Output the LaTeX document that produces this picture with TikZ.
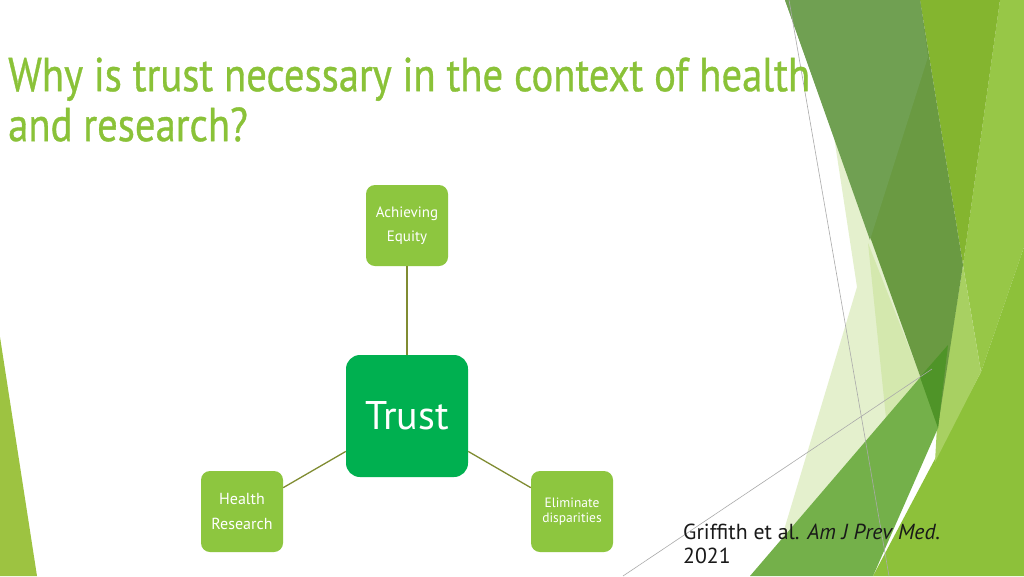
\documentclass[tikz,border=0pt]{standalone}
\usepackage{fontspec}
\setmainfont{PT Sans}
\newfontfamily\titlefont{PT Sans}[FakeBold=0.8]
\usepackage{graphicx}
\definecolor{cTitle}{RGB}{138,194,56}
\definecolor{cLeaf}{RGB}{141,198,63}
\definecolor{cTrust}{RGB}{0,176,80}
\definecolor{cLink}{RGB}{128,140,50}
\definecolor{cE}{RGB}{151,199,71}
\definecolor{cG}{RGB}{141,193,58}
\definecolor{cL}{RGB}{168,208,98}
\definecolor{cD}{RGB}{132,181,47}
\definecolor{cP}{RGB}{228,240,205}
\definecolor{cPtwo}{RGB}{212,232,174}
\definecolor{cF}{RGB}{116,176,74}
\definecolor{cC}{RGB}{106,154,66}
\definecolor{cB}{RGB}{112,160,82}
\definecolor{cDk}{RGB}{79,148,40}
\definecolor{cW}{RGB}{157,195,65}
\definecolor{cGrey}{RGB}{170,170,170}
\begin{document}
\begin{tikzpicture}[x=1pt,y=-1pt,
  leaf/.style={fill=cLeaf, rounded corners=9pt, minimum width=82pt, minimum height=81pt, text=white, align=center, inner sep=0pt},
  hub/.style={fill=cTrust, rounded corners=14pt, minimum width=122pt, minimum height=122pt, text=white, inner sep=0pt},
  link/.style={draw=cLink, line width=1.3pt},
  thin grey/.style={draw=cGrey, line width=0.6pt}]
\useasboundingbox (0,0) rectangle (1024,576);
\fill[white] (0,0) rectangle (1024,576);
% decoration, right side
\fill[cE] (1000,0) -- (1024,0) -- (1024,247) -- (981,372) -- (963,265) -- cycle;
\fill[cG] (1024,247) -- (1024,576) -- (873,576) -- (981,372) -- cycle;
\fill[cL] (963,265) -- (981,372) -- (935,462) -- (937,426) -- cycle;
\fill[cD] (920,0) -- (1000,0) -- (963,265) -- cycle;
\fill[cP] (833,130) -- (921,378) -- (781,540) -- (857,287) -- cycle;
\fill[cPtwo] (868,243) -- (921,378) -- (886,418) -- cycle;
\fill[cF] (750,576) -- (948,345) -- (938,428) -- (873,576) -- cycle;
\fill[cC] (785,0) -- (920,0) -- (963,265) -- (938,426) -- cycle;
\fill[cB] (785,0) -- (920,0) -- (928,57) -- (870,240) -- cycle;
\fill[cDk] (920,377) -- (948,345) -- (938,428) -- cycle;
% decoration, left side
\fill[cW] (0,337) -- (37,576) -- (0,576) -- cycle;
% thin lines
\draw[thin grey] (789,0) -- (889,576);
\draw[thin grey] (623,576) -- (932,369);
% title
\node[anchor=north west, inner sep=0pt, text=cTitle] (title) at (8,56)
  {\scalebox{1}[1.17]{\resizebox{802pt}{!}{\titlefont\fontsize{40}{42}\selectfont\begin{tabular}{@{}l@{}}Why is trust necessary in the context of health\\and research?\end{tabular}}}};
% diagram
\node[leaf, font=\fontsize{15}{24}\selectfont] (ach) at (407,225.5) {Achieving\\Equity};
\node[hub, font=\fontsize{40}{48}\selectfont] (trust) at (407,416) {Trust};
\node[leaf, font=\fontsize{16}{25}\selectfont] (hr) at (242,511.5) {Health\\Research};
\node[leaf, font=\fontsize{13.5}{15}\selectfont] (el) at (572,511.5) {Eliminate\\disparities};
\draw[link] (ach) -- (trust);
\draw[link] (trust) -- (hr);
\draw[link] (trust) -- (el);
% citation
\node[anchor=north west, inner sep=0pt, text=black!90] (cite) at (683,523)
  {\resizebox{257pt}{!}{\fontsize{20}{22}\selectfont\begin{tabular}{@{}l@{}}Griffith et al. \textit{Am J Prev Med.}\\2021\end{tabular}}};
\end{tikzpicture}
\end{document}
